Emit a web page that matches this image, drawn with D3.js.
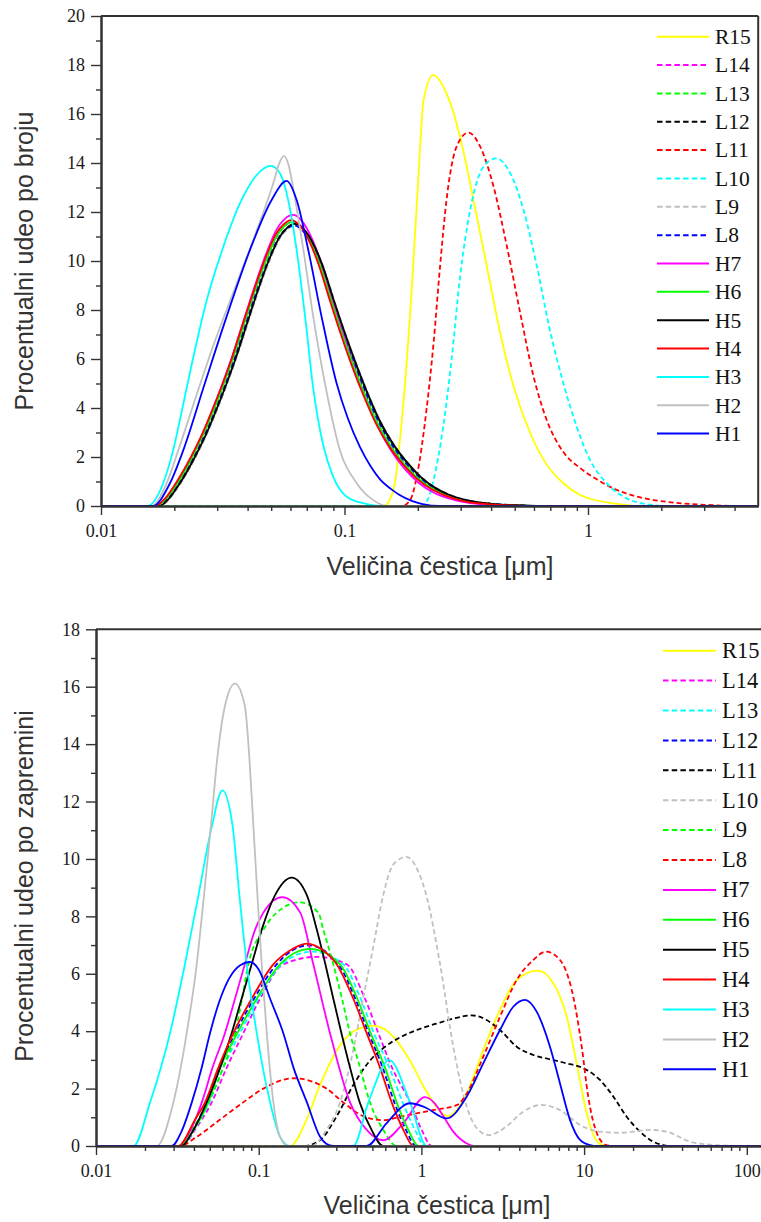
<!DOCTYPE html>
<html><head><meta charset="utf-8">
<script src="https://cdn.jsdelivr.net/npm/d3@7"></script>
<style>body{margin:0;background:#fff}svg{display:block}</style>
</head><body>
<svg id="c" width="761" height="1222"></svg>
<script>
// ---------- TOP CHART: number distribution (size µm, %) ----------
const numR15=[[0.01,0],[0.145,0],[0.1588,0.65],[0.1735,3.92],[0.1884,8.68],[0.2012,13.44],[0.2113,16.57],[0.2313,17.59],[0.2624,16.84],[0.2983,15.07],[0.3386,12.49],[0.3843,9.77],[0.4363,7.05],[0.4952,4.87],[0.5796,2.97],[0.6715,1.74],[0.7924,0.93],[0.928,0.45],[1.27,0.11],[1.74,0],[5,0]];
const numL14=[[0.01,0],[0.0171,0],[0.0187,0.3],[0.0207,0.91],[0.0239,2.02],[0.0266,2.95],[0.0293,3.94],[0.0323,5.05],[0.0353,6.1],[0.0386,7.32],[0.0423,8.53],[0.0483,10.15],[0.0535,11.1],[0.0576,11.48],[0.0617,11.6],[0.067,11.38],[0.0729,10.8],[0.0798,9.85],[0.0887,8.4],[0.0985,7.0],[0.1103,5.62],[0.1231,4.42],[0.1379,3.32],[0.1556,2.42],[0.1773,1.68],[0.2019,1.1],[0.2315,0.68],[0.266,0.4],[0.315,0.19],[0.394,0.07],[0.49,0.02],[0.64,0],[5,0]];
const numL13=[[0.01,0],[0.0174,0],[0.0189,0.3],[0.0209,0.9],[0.0242,2.0],[0.0269,2.93],[0.0296,3.92],[0.0327,5.02],[0.0357,6.07],[0.0391,7.27],[0.0428,8.47],[0.0489,10.05],[0.0541,11.0],[0.0583,11.37],[0.0624,11.5],[0.0678,11.29],[0.0738,10.74],[0.0808,9.84],[0.0897,8.44],[0.0997,7.08],[0.1117,5.72],[0.1246,4.52],[0.1396,3.42],[0.1575,2.52],[0.1795,1.78],[0.2044,1.18],[0.2343,0.74],[0.269,0.44],[0.319,0.22],[0.399,0.09],[0.5,0.03],[0.65,0],[5,0]];
const numL12=[[0.01,0],[0.0174,0],[0.019,0.29],[0.021,0.88],[0.0243,1.97],[0.027,2.9],[0.0297,3.87],[0.0328,4.97],[0.0358,6.02],[0.0392,7.22],[0.0429,8.42],[0.049,10.0],[0.0543,10.96],[0.0585,11.34],[0.0626,11.47],[0.068,11.27],[0.074,10.73],[0.081,9.84],[0.09,8.44],[0.1,7.09],[0.112,5.74],[0.125,4.54],[0.14,3.44],[0.158,2.54],[0.18,1.79],[0.205,1.19],[0.235,0.74],[0.27,0.45],[0.32,0.23],[0.4,0.09],[0.5,0.03],[0.65,0],[5,0]];
const numL11=[[0.01,0],[0.172,0],[0.1861,0.24],[0.1981,1.2],[0.2171,3.92],[0.2321,6.64],[0.2468,9.77],[0.2624,12.49],[0.2886,14.67],[0.3228,15.24],[0.3608,14.67],[0.4095,13.03],[0.4648,10.58],[0.5271,7.86],[0.5978,5.28],[0.6715,3.6],[0.7924,2.2],[0.928,1.55],[1.09,1.08],[1.27,0.72],[1.5,0.45],[1.8,0.27],[2.3,0.13],[3.0,0.05],[4.2,0],[5,0]];
const numL10=[[0.01,0],[0.21,0],[0.2321,1.06],[0.2543,3.24],[0.2752,5.96],[0.2983,9.36],[0.3281,12.08],[0.3722,13.85],[0.4199,14.19],[0.4796,13.58],[0.5437,12.08],[0.6171,9.77],[0.6925,7.32],[0.7924,5.01],[0.8986,3.24],[1.019,1.88],[1.193,0.93],[1.443,0.31],[1.85,0.04],[2.1,0],[5,0]];
const numL9=[[0.01,0],[0.0175,0],[0.0191,0.3],[0.0211,0.9],[0.0244,2.0],[0.0271,2.9],[0.0298,3.88],[0.0329,4.98],[0.0359,6.02],[0.0394,7.22],[0.0431,8.42],[0.0492,10.0],[0.0545,10.95],[0.0587,11.32],[0.0628,11.45],[0.0683,11.25],[0.0743,10.72],[0.0813,9.84],[0.0904,8.45],[0.1004,7.1],[0.1124,5.76],[0.1255,4.56],[0.1406,3.46],[0.1586,2.56],[0.1807,1.81],[0.2058,1.21],[0.236,0.76],[0.271,0.46],[0.321,0.23],[0.4,0.09],[0.5,0.03],[0.65,0],[5,0]];
const numL8=[[0.01,0],[0.0172,0],[0.0188,0.3],[0.0208,0.9],[0.0241,2.0],[0.0267,2.92],[0.0294,3.9],[0.0325,5.0],[0.0354,6.05],[0.0388,7.25],[0.0425,8.45],[0.0485,10.0],[0.0538,10.95],[0.0579,11.32],[0.062,11.45],[0.0673,11.24],[0.0733,10.7],[0.0802,9.8],[0.0891,8.4],[0.099,7.05],[0.1109,5.7],[0.1238,4.5],[0.1386,3.4],[0.1564,2.5],[0.1782,1.76],[0.203,1.17],[0.2327,0.73],[0.267,0.44],[0.317,0.22],[0.396,0.09],[0.495,0.03],[0.645,0],[5,0]];
const numH7=[[0.01,0],[0.0168,0],[0.0184,0.3],[0.0204,0.92],[0.0236,2.03],[0.0262,2.97],[0.0288,3.97],[0.0318,5.08],[0.0347,6.15],[0.038,7.38],[0.0416,8.6],[0.0475,10.25],[0.0527,11.3],[0.0569,11.72],[0.0613,11.88],[0.0667,11.65],[0.0728,11.0],[0.0797,10.0],[0.0886,8.5],[0.0985,7.05],[0.1103,5.6],[0.1231,4.35],[0.1379,3.2],[0.1556,2.25],[0.177,1.5],[0.2015,0.95],[0.231,0.56],[0.266,0.32],[0.315,0.15],[0.39,0.05],[0.49,0.015],[0.62,0],[5,0]];
const numH6=[[0.01,0],[0.0169,0],[0.0185,0.3],[0.0205,0.9],[0.0237,2.0],[0.0263,2.92],[0.029,3.9],[0.032,5.0],[0.0349,6.05],[0.0382,7.25],[0.0418,8.45],[0.0478,10.05],[0.0529,11.05],[0.057,11.45],[0.061,11.6],[0.0663,11.4],[0.0722,10.8],[0.079,9.88],[0.0878,8.45],[0.0975,7.05],[0.1092,5.68],[0.1219,4.48],[0.1365,3.38],[0.154,2.47],[0.1755,1.73],[0.2,1.14],[0.229,0.71],[0.263,0.42],[0.312,0.21],[0.39,0.08],[0.49,0.025],[0.64,0],[5,0]];
const numH5=[[0.01,0],[0.0174,0],[0.019,0.3],[0.021,0.9],[0.0243,2.0],[0.027,2.92],[0.0297,3.9],[0.0328,5.0],[0.0358,6.05],[0.0392,7.25],[0.0429,8.45],[0.049,10.05],[0.0543,11.0],[0.0585,11.38],[0.0626,11.52],[0.068,11.3],[0.074,10.75],[0.081,9.85],[0.09,8.45],[0.1,7.1],[0.112,5.75],[0.125,4.55],[0.14,3.45],[0.158,2.55],[0.18,1.8],[0.205,1.2],[0.235,0.75],[0.27,0.45],[0.32,0.23],[0.4,0.09],[0.5,0.03],[0.65,0],[5,0]];
const numH4=[[0.01,0],[0.0167,0],[0.0183,0.3],[0.0202,0.9],[0.0234,2.0],[0.026,2.92],[0.0286,3.9],[0.0316,5.0],[0.0345,6.05],[0.0377,7.25],[0.0413,8.45],[0.0472,10.1],[0.0523,11.1],[0.0563,11.5],[0.0603,11.67],[0.0655,11.45],[0.0713,10.85],[0.078,9.9],[0.0867,8.45],[0.0963,7.05],[0.1079,5.65],[0.1204,4.45],[0.1348,3.35],[0.1522,2.45],[0.1733,1.72],[0.1974,1.13],[0.2263,0.7],[0.26,0.42],[0.308,0.2],[0.385,0.08],[0.48,0.025],[0.63,0],[5,0]];
const numH3=[[0.01,0],[0.0155,0],[0.018,0.93],[0.0198,2.29],[0.0218,4.19],[0.0243,6.37],[0.0272,8.41],[0.0318,10.58],[0.0372,12.35],[0.0436,13.51],[0.0499,13.88],[0.0543,13.58],[0.0587,12.49],[0.0636,10.45],[0.0689,7.73],[0.0744,4.8],[0.0817,2.5],[0.0898,1.2],[0.1021,0.38],[0.1233,0.08],[0.145,0],[5,0]];
const numH2=[[0.01,0],[0.0162,0],[0.0186,0.93],[0.0208,2.29],[0.0243,4.33],[0.0285,6.37],[0.0361,9.09],[0.0457,11.8],[0.051,13.17],[0.0538,13.95],[0.0564,14.29],[0.059,13.9],[0.0625,12.6],[0.0678,10.45],[0.0744,7.73],[0.0831,5.01],[0.0957,2.29],[0.1122,0.93],[0.1313,0.24],[0.1494,0],[5,0]];
const numH1=[[0.01,0],[0.0163,0],[0.0192,0.93],[0.0218,2.29],[0.0267,5.01],[0.0328,7.73],[0.0409,10.45],[0.0502,12.49],[0.0578,13.27],[0.0636,12.49],[0.071,10.45],[0.0805,7.73],[0.0928,5.01],[0.103,3.6],[0.1158,2.4],[0.128,1.62],[0.1397,1.1],[0.155,0.7],[0.1684,0.45],[0.19,0.2],[0.2093,0.08],[0.2468,0],[5,0]];

// ---------- BOTTOM CHART: volume distribution (size µm, %) ----------
const volR15=[[0.01,0],[0.156,0],[0.197,0.92],[0.238,2.12],[0.302,3.33],[0.381,3.99],[0.506,4.19],[0.672,3.81],[0.851,2.97],[1.078,1.88],[1.46,1.04],[1.9,1.83],[2.4,3.34],[3.04,4.74],[3.85,5.78],[5.19,6.11],[6.47,5.67],[7.82,4.5],[9.0,2.88],[10.37,1.14],[11.67,0.27],[13.1,0.03],[14.5,0],[200,0]];
const volL14=[[0.01,0],[0.034,0],[0.0405,0.56],[0.0514,1.52],[0.0636,2.73],[0.0804,3.93],[0.1019,5.13],[0.1417,6.33],[0.2271,6.59],[0.3473,6.33],[0.4501,5.13],[0.5437,3.93],[0.66,2.73],[0.8511,1.52],[1.004,0.56],[1.157,0],[200,0]];
const volL13=[[0.01,0],[0.034,0],[0.040,0.56],[0.0497,1.52],[0.0606,2.73],[0.0768,3.93],[0.0995,5.13],[0.1384,6.33],[0.2117,6.77],[0.3313,6.33],[0.4234,5.13],[0.5112,3.93],[0.6352,2.73],[0.7671,1.52],[0.9135,0.56],[1.052,0],[200,0]];
const volL12=[[0.01,0],[0.033,0],[0.0395,0.56],[0.0479,1.52],[0.0578,2.73],[0.0718,3.93],[0.0936,5.13],[0.129,6.33],[0.2018,6.99],[0.3087,6.33],[0.3926,5.13],[0.4741,3.93],[0.5781,2.73],[0.6817,1.52],[0.8039,0.56],[0.9266,0],[200,0]];
const volL11=[[0.01,0],[0.19,0],[0.238,0.2],[0.302,1.04],[0.381,2.12],[0.482,2.97],[0.612,3.5],[0.78,3.85],[1.0,4.1],[1.3,4.3],[1.6,4.45],[2.04,4.55],[2.5,4.4],[3.04,4.04],[3.85,3.46],[4.87,3.17],[6.17,3.02],[7.82,2.88],[9.89,2.71],[12.52,2.3],[15.12,1.72],[18.27,1.02],[22.06,0.5],[26.6,0.15],[30.7,0.03],[34,0],[200,0]];
const volL10=[[0.01,0],[0.21,0],[0.261,0.56],[0.316,1.52],[0.381,3.33],[0.438,5.13],[0.506,6.93],[0.582,8.73],[0.672,9.81],[0.81,10.07],[0.95,9.6],[1.078,8.68],[1.3,6.36],[1.57,3.46],[1.9,1.37],[2.19,0.62],[2.6,0.38],[3.31,0.67],[4.24,1.2],[5.45,1.43],[7.11,1.25],[9.44,0.73],[12.52,0.5],[16.6,0.46],[25.4,0.56],[32.2,0.5],[44.8,0.15],[65.3,0.03],[100,0],[200,0]];
const volL9=[[0.01,0],[0.034,0],[0.0389,0.56],[0.049,1.52],[0.0606,2.73],[0.0715,3.93],[0.079,5.13],[0.0864,6.33],[0.1068,7.53],[0.129,8.13],[0.1794,8.49],[0.2326,8.13],[0.2496,7.53],[0.2874,6.33],[0.325,5.13],[0.3641,3.93],[0.42,2.73],[0.4831,1.52],[0.5834,0.56],[0.7047,0],[200,0]];
const volL8=[[0.01,0],[0.0328,0],[0.0416,0.32],[0.0579,0.92],[0.0803,1.52],[0.1068,2.0],[0.1636,2.36],[0.2614,2.0],[0.3305,1.52],[0.4378,1.04],[0.582,0.9],[0.739,1.02],[0.98,1.16],[1.18,1.25],[1.66,1.43],[1.9,1.83],[2.4,3.11],[3.04,4.5],[3.85,5.78],[4.87,6.48],[5.83,6.77],[7.11,6.48],[8.58,5.2],[9.67,3.46],[10.6,1.72],[12.0,0.44],[13.7,0.03],[15,0],[200,0]];
const volH7=[[0.01,0],[0.032,0],[0.0382,0.56],[0.0447,1.52],[0.052,2.73],[0.062,3.93],[0.0715,5.13],[0.0822,6.33],[0.0949,7.53],[0.1068,8.13],[0.1396,8.67],[0.18,8.13],[0.2166,6.33],[0.2743,3.93],[0.3643,1.52],[0.461,0.56],[0.582,0.2],[0.776,0.8],[1.05,1.7],[1.2,1.5],[1.37,1.02],[1.57,0.5],[1.9,0.09],[2.1,0],[200,0]];
const volH6=[[0.01,0],[0.033,0],[0.0398,0.56],[0.049,1.52],[0.058,2.73],[0.0739,3.93],[0.0972,5.13],[0.1352,6.33],[0.2067,6.87],[0.316,6.33],[0.4038,5.13],[0.4877,3.93],[0.5975,2.73],[0.7047,1.52],[0.831,0.56],[0.9575,0],[200,0]];
const volH5=[[0.01,0],[0.0336,0],[0.0397,0.56],[0.0479,1.52],[0.0579,2.73],[0.0682,3.93],[0.0785,5.13],[0.0905,6.33],[0.1043,7.53],[0.1258,8.73],[0.1595,9.35],[0.1979,8.73],[0.2277,7.53],[0.2569,6.33],[0.2875,5.13],[0.3225,3.93],[0.3643,2.73],[0.4177,1.52],[0.494,0.56],[0.582,0],[200,0]];
const volH4=[[0.01,0],[0.032,0],[0.0406,0.92],[0.0468,1.52],[0.0565,2.73],[0.0698,3.93],[0.0905,5.13],[0.123,6.33],[0.1557,6.81],[0.1971,7.05],[0.2496,6.81],[0.3015,6.33],[0.3816,5.13],[0.4609,3.93],[0.5566,2.73],[0.6568,1.52],[0.7744,0.56],[0.8924,0],[200,0]];
const volH3=[[0.01,0],[0.017,0],[0.0215,1.52],[0.0285,3.93],[0.0352,6.33],[0.0426,8.73],[0.0515,11.13],[0.0598,12.39],[0.0692,11.13],[0.0761,8.73],[0.0844,6.33],[0.0973,3.93],[0.1175,1.52],[0.1352,0.32],[0.156,0],[0.381,0],[0.472,1.52],[0.635,2.99],[0.851,1.52],[1.078,0],[200,0]];
const volH2=[[0.01,0],[0.0236,0],[0.0299,1.52],[0.0361,3.93],[0.0416,6.33],[0.0461,8.73],[0.0508,11.13],[0.0557,13.53],[0.062,15.33],[0.0715,16.11],[0.0822,15.33],[0.0876,13.53],[0.0928,11.13],[0.0982,8.73],[0.1043,6.33],[0.1121,3.93],[0.1231,1.52],[0.1352,0.32],[0.152,0],[200,0]];
const volH1=[[0.01,0],[0.0292,0],[0.0335,0.5],[0.0388,1.52],[0.0445,2.7],[0.0502,3.93],[0.057,5.0],[0.066,5.85],[0.077,6.3],[0.0884,6.41],[0.1,6.15],[0.1175,5.13],[0.1417,3.93],[0.1636,2.73],[0.1979,1.52],[0.2384,0.32],[0.26,0.08],[0.2875,0],[0.461,0],[0.612,0.8],[0.851,1.49],[1.05,1.35],[1.43,0.96],[1.9,1.72],[2.4,2.88],[3.04,4.04],[3.67,4.85],[4.33,5.09],[5.11,4.68],[6.17,3.46],[7.11,2.18],[8.19,0.91],[9.44,0.21],[10.87,0.03],[12,0],[200,0]];

// ---------- labels / ticks ----------
const topNames=["R15","L14","L13","L12","L11","L10","L9","L8","H7","H6","H5","H4","H3","H2","H1"];
const botNames=["R15","L14","L13","L12","L11","L10","L9","L8","H7","H6","H5","H4","H3","H2","H1"];
const topXTicks=[0.01,0.1,1];
const topXTickLabels=["0.01","0.1","1"];
const botXTicks=[0.01,0.1,1,10,100];
const botXTickLabels=["0.01","0.1","1","10","100"];
const topYTicks=[0,2,4,6,8,10,12,14,16,18,20];
const botYTicks=[0,2,4,6,8,10,12,14,16,18];
const xTitle="Veličina čestica [μm]";
const topYTitle="Procentualni udeo po broju";
const botYTitle="Procentualni udeo po zapremini";

// ---------- styles ----------
const COL={y:"#ffff00",m:"#ff00ff",g:"#00ff00",k:"#000000",r:"#ff0000",c:"#00ffff",s:"#c0c0c0",b:"#0000ff"};
const topStyle=[["y",0],["m",1],["g",1],["k",1],["r",1],["c",1],["s",1],["b",1],["m",0],["g",0],["k",0],["r",0],["c",0],["s",0],["b",0]];
const botStyle=[["y",0],["m",1],["c",1],["b",1],["k",1],["s",1],["g",1],["r",1],["m",0],["g",0],["k",0],["r",0],["c",0],["s",0],["b",0]];
const topData=[numR15,numL14,numL13,numL12,numL11,numL10,numL9,numL8,numH7,numH6,numH5,numH4,numH3,numH2,numH1];
const botData=[volR15,volL14,volL13,volL12,volL11,volL10,volL9,volL8,volH7,volH6,volH5,volH4,volH3,volH2,volH1];

const svg=d3.select("#c");
const AX="#333";

function minorTicks(lo,hi){const t=[];for(let e=lo;e<hi;e++){for(let k=2;k<=9;k++){t.push(+(k*Math.pow(10,e)).toPrecision(3));}}return t;}

function drawChart(cfg){
  const x=d3.scaleLog().domain(cfg.xDomain).range(cfg.xRange);
  const y=d3.scaleLinear().domain(cfg.yDomain).range(cfg.yRange);
  const g=svg.append("g");
  const line=d3.line().x(d=>x(d[0])).y(d=>y(d[1])).curve(d3.curveMonotoneX);

  // curves
  cfg.data.forEach((d,i)=>{
    const st=cfg.style[i];
    g.append("path").attr("d",line(d)).attr("fill","none").attr("stroke",COL[st[0]])
      .attr("stroke-width",1.8).attr("stroke-dasharray",st[1]?"5,3":null);
  });

  // axes
  const yMaj=d3.axisLeft(y).tickValues(cfg.yTicks).tickSize(10).tickSizeOuter(0).tickPadding(6).tickFormat(d3.format("d"));
  const yMinor=d3.axisLeft(y).tickValues(cfg.yTicks.slice(0,-1).map(v=>v+1)).tickSize(5).tickSizeOuter(0).tickFormat("");
  const xMaj=d3.axisBottom(x).tickValues(cfg.xTicks).tickSize(9).tickSizeOuter(0).tickPadding(9).tickFormat((d,i)=>cfg.xTickLabels[i]);
  const xMinor=d3.axisBottom(x).tickValues(cfg.xMinor).tickSize(5).tickSizeOuter(0).tickFormat("");

  const gy=g.append("g").attr("transform",`translate(${cfg.xRange[0]},0)`);
  gy.call(yMinor); gy.append("g").call(yMaj);
  const gx=g.append("g").attr("transform",`translate(0,${cfg.yRange[0]})`);
  gx.call(xMinor); gx.append("g").call(xMaj);
  g.selectAll(".domain").attr("stroke",AX).attr("stroke-width",2);
  g.selectAll(".tick line").attr("stroke",AX).attr("stroke-width",1.4);
  g.selectAll(".tick text").attr("font-family","Liberation Serif").attr("font-size",18).attr("fill","#1a1a1a");

  // frame
  g.append("line").attr("x1",cfg.xRange[0]).attr("x2",cfg.frameRight).attr("y1",y(cfg.yDomain[1])).attr("y2",y(cfg.yDomain[1])).attr("stroke",AX).attr("stroke-width",2);
  if(cfg.rightBorder){g.append("line").attr("x1",cfg.frameRight).attr("x2",cfg.frameRight).attr("y1",y(cfg.yDomain[0])).attr("y2",y(cfg.yDomain[1])).attr("stroke",AX).attr("stroke-width",2);}

  // legend
  cfg.names.forEach((n,i)=>{
    const st=cfg.style[i], ly=cfg.legY0+i*cfg.legDY;
    g.append("line").attr("x1",cfg.legX1).attr("x2",cfg.legX2).attr("y1",ly).attr("y2",ly)
      .attr("stroke",COL[st[0]]).attr("stroke-width",2).attr("stroke-dasharray",st[1]?"5.5,3.2":null);
    g.append("text").attr("x",cfg.legTX).attr("y",ly+7.3).text(n)
      .attr("font-family","Liberation Serif").attr("font-size",cfg.legFS).attr("fill","#111");
  });

  // titles
  g.append("text").attr("x",cfg.xTitleX).attr("y",cfg.xTitleY).attr("text-anchor","middle")
    .attr("font-family","Liberation Sans").attr("font-size",25).attr("fill","#333").text(xTitle);
  g.append("text").attr("transform",`translate(33,${cfg.yTitleY}) rotate(-90)`).attr("text-anchor","middle")
    .attr("font-family","Liberation Sans").attr("font-size",25).attr("fill","#333").text(cfg.yTitle);
}

drawChart({
  xDomain:[0.01,5], xRange:[101,101+243.5*Math.log10(500)],
  yDomain:[0,20], yRange:[506,16],
  yTicks:topYTicks, xTicks:topXTicks, xTickLabels:topXTickLabels,
  xMinor:minorTicks(-2,0).concat([2,3,4]),
  frameRight:101+243.5*Math.log10(500), rightBorder:true,
  data:topData, style:topStyle, names:topNames,
  legY0:36.7, legDY:28.35, legX1:657, legX2:709, legTX:715, legFS:21.5,
  xTitleX:440, xTitleY:575, yTitle:topYTitle, yTitleY:261
});
drawChart({
  xDomain:[0.01,200], xRange:[96,96+162.7*Math.log10(20000)],
  yDomain:[0,18], yRange:[1146,629.3],
  yTicks:botYTicks, xTicks:botXTicks, xTickLabels:botXTickLabels,
  xMinor:minorTicks(-2,2),
  frameRight:761, rightBorder:false,
  data:botData, style:botStyle, names:botNames,
  legY0:650.7, legDY:29.9, legX1:663, legX2:716, legTX:722, legFS:22.5,
  xTitleX:437, xTitleY:1214, yTitle:botYTitle, yTitleY:886
});
</script></body></html>
